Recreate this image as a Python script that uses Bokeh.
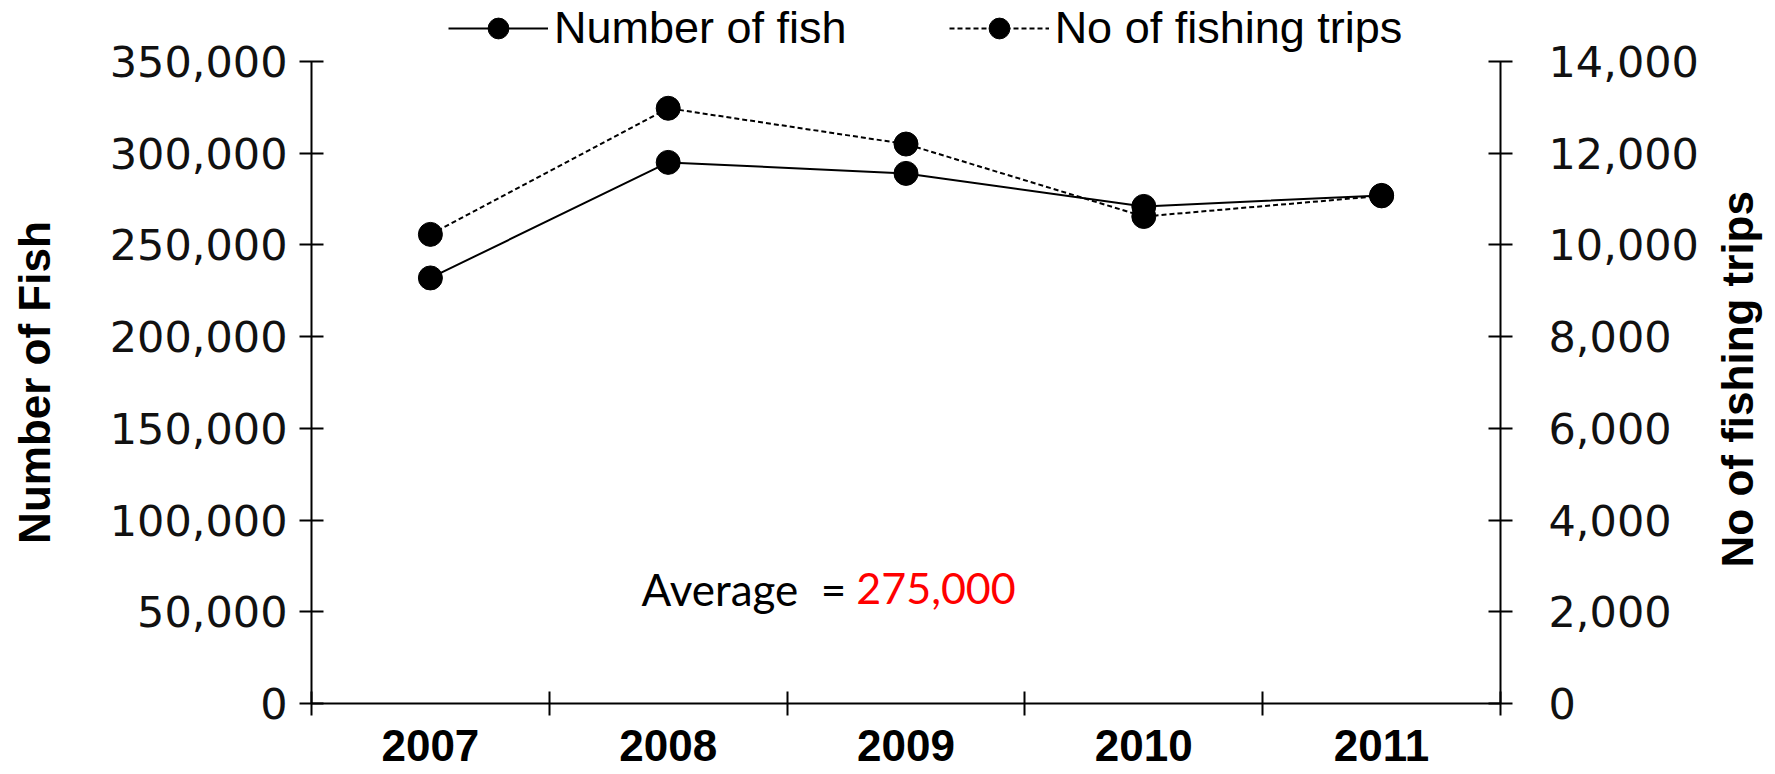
import math
from bokeh.plotting import figure
from bokeh.layouts import row
from bokeh.models import (LinearAxis, Range1d, FixedTicker, NumeralTickFormatter,
                          Legend, LegendItem, Label)
from bokeh.embed import file_html
from bokeh.resources import INLINE

# ---- data ----
years = [2007, 2008, 2009, 2010, 2011]
year_labels = ["2007", "2008", "2009", "2010", "2011"]
number_of_fish = [232000, 295000, 289000, 271000, 277000]
fishing_trips = [10230, 12980, 12200, 10620, 11070]
fish_ticks = [0, 50000, 100000, 150000, 200000, 250000, 300000, 350000]
trip_ticks = [0, 2000, 4000, 6000, 8000, 10000, 12000, 14000]
left_title = "Number of Fish"
right_title = "No of fishing trips"
average_text = "Average\u00a0\u00a0="
average_value = "275,000"

boundaries = [y - 0.5 for y in years] + [years[-1] + 0.5]

# layout (pixels)
MAIN_W, SIDE_W, H = 1710, 60, 774
FRAME_H = 703          # frame height in px
AXIS_H = 642           # px covered by the axes' value span
headroom = FRAME_H / AXIS_H
NBSP = "\u00a0"

p = figure(width=MAIN_W, height=H, output_backend="svg", toolbar_location=None,
           x_range=Range1d(boundaries[0], boundaries[-1]),
           y_range=Range1d(fish_ticks[0], fish_ticks[-1] * headroom),
           min_border_left=311, min_border_right=MAIN_W - 1500,
           min_border_top=0, min_border_bottom=71)
p.extra_y_ranges = {"trips": Range1d(trip_ticks[0], trip_ticks[-1] * headroom)}
p.outline_line_color = None
p.xgrid.visible = False
p.ygrid.visible = False
p.background_fill_color = "white"
p.border_fill_color = "white"

TICK_FONT = "DejaVu Sans"
BOLD_FONT = "Liberation Sans"

# x axis
xa = p.xaxis[0]
xa.ticker = FixedTicker(ticks=years, minor_ticks=boundaries)
xa.major_label_overrides = {y: l for y, l in zip(years, year_labels)}
xa.major_tick_line_color = None
xa.major_tick_in = 0
xa.major_tick_out = 0
xa.minor_tick_in = 12
xa.minor_tick_out = 12
xa.minor_tick_line_color = "black"
xa.minor_tick_line_width = 2
xa.axis_line_width = 2
xa.axis_line_color = "black"
xa.major_label_text_font = BOLD_FONT
xa.major_label_text_font_style = "bold"
xa.major_label_text_font_size = "44px"
xa.major_label_text_color = "black"
xa.major_label_standoff = 14

def style_y(ax, standoff):
    ax.formatter = NumeralTickFormatter(format="0,0")
    ax.major_tick_in = 12
    ax.major_tick_out = 12
    ax.major_tick_line_width = 2
    ax.major_tick_line_color = "black"
    ax.minor_tick_line_color = None
    ax.axis_line_width = 2
    ax.axis_line_color = "black"
    ax.major_label_text_font = TICK_FONT
    ax.major_label_text_font_size = "43px"
    ax.major_label_text_color = "#111111"
    ax.major_label_standoff = standoff

ya = p.yaxis[0]
ya.ticker = FixedTicker(ticks=fish_ticks)
ya.bounds = (fish_ticks[0], fish_ticks[-1])
style_y(ya, 12)
ya.axis_label = left_title + NBSP * 5
ya.axis_label_text_font = BOLD_FONT
ya.axis_label_text_font_style = "bold"
ya.axis_label_text_font_size = "44px"
ya.axis_label_text_color = "black"
ya.axis_label_standoff = 48

ra = LinearAxis(y_range_name="trips", ticker=FixedTicker(ticks=trip_ticks),
                bounds=(trip_ticks[0], trip_ticks[-1]))
style_y(ra, 36)
p.add_layout(ra, "right")

# series
l1 = p.line(years, number_of_fish, line_color="black", line_width=2)
c1 = p.scatter(years, number_of_fish, size=24, fill_color="black", line_color="black")
l2 = p.line(years, fishing_trips, y_range_name="trips", line_color="black",
            line_width=2, line_dash="5 3")
c2 = p.scatter(years, fishing_trips, y_range_name="trips", size=24,
               fill_color="black", line_color="black")

legend = Legend(items=[LegendItem(label="Number of fish", renderers=[l1, c1]),
                       LegendItem(label="No of fishing trips", renderers=[l2, c2])],
                orientation="horizontal", location=(137, 649),
                glyph_width=100, glyph_height=52, label_standoff=6, spacing=102,
                label_text_font=BOLD_FONT, label_text_font_size="45px",
                label_text_color="black",
                border_line_color=None, background_fill_alpha=0,
                padding=0, margin=0)
p.add_layout(legend, "center")

# annotation
p.add_layout(Label(x=2008.77, y=62500, x_offset=-5, text=average_text,
                   text_align="right", text_baseline="middle",
                   text_font="Lato", text_font_size="44px", text_color="black"))
p.add_layout(Label(x=2008.77, y=62500, x_offset=5, text=average_value,
                   text_align="left", text_baseline="middle",
                   text_font="Lato", text_font_size="43px", text_color="red"))

# right-hand title panel (text reads bottom to top)
side = figure(width=SIDE_W, height=H, output_backend="svg", toolbar_location=None,
              x_range=Range1d(0, SIDE_W), y_range=Range1d(0, H),
              x_axis_type=None, y_axis_type=None, min_border=0)
side.grid.visible = False
side.outline_line_color = None
side.background_fill_color = "white"
side.border_fill_color = "white"
side.add_layout(Label(x=1737 - MAIN_W, y=H - 417, text=right_title,
                      angle=math.pi / 2, text_align="center", text_baseline="middle",
                      text_font=BOLD_FONT, text_font_style="bold",
                      text_font_size="44px", text_color="black"))

layout = row(p, side)
open("out.html", "w").write(file_html(layout, INLINE))
